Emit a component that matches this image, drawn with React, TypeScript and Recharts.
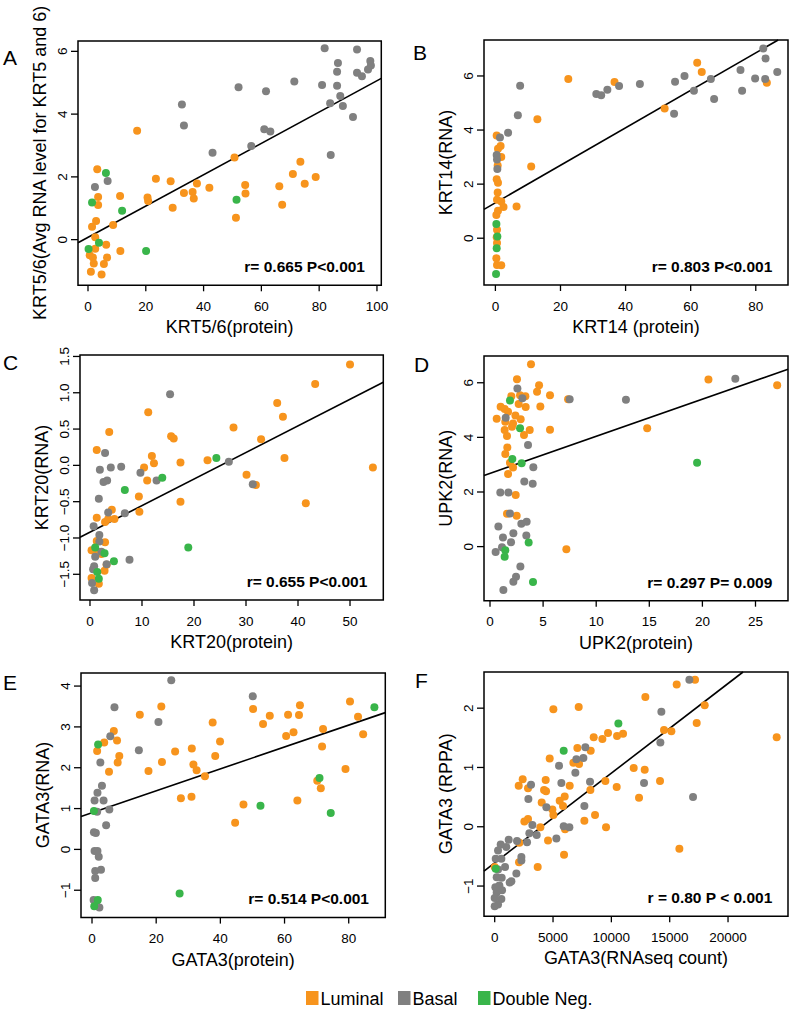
import React from 'react';
import {
  ScatterChart,
  Scatter,
  XAxis,
  YAxis,
  ReferenceArea,
  ReferenceLine,
} from 'recharts';

type Pt = [number, number];

const FONT = '"Liberation Sans", Arial, Helvetica, sans-serif';
const ORANGE = '#F7941D';
const GREY = '#808080';
const GREEN = '#39B54A';

// ---- A: KRT5/6 ----
const aLuminal: Pt[] = [
  [17, 3.47], [3.2, 2.24], [50.7, 2.62], [23.5, 1.94], [28.6, 1.86], [37.7, 1.79], [42, 1.65],
  [33.2, 1.49], [36.2, 1.52], [36.6, 1.31], [29.3, 1.02], [20.6, 1.34], [20.8, 1.23], [11.1, 1.39],
  [3.5, 1.36], [3.5, 1.1], [54.4, 1.74], [54.5, 1.47], [51.2, 0.7], [66.2, 1.7], [67.2, 1.11],
  [70.9, 2.09], [73.5, 2.48], [75, 1.78], [78.8, 2.0], [2.8, 0.59], [1.4, 0.41], [8.7, 0.47],
  [2.5, 0.08], [6.3, -0.16], [11.2, -0.36], [0.6, -0.5], [1.7, -0.57], [6.6, -0.57], [2, -0.76],
  [5.5, -0.78], [1, -1.02], [4.7, -1.11], [2.5, -0.29],
];
const aBasal: Pt[] = [
  [81.9, 6.1], [93.1, 6.06], [86.5, 5.63], [97.7, 5.69], [97.9, 5.55], [96.9, 5.42], [94.8, 5.21],
  [93.1, 5.32], [86.2, 5.35], [71.4, 5.04], [81, 4.93], [86.2, 4.9], [52.1, 4.86], [61.6, 4.73],
  [87.3, 4.58], [83.8, 4.35], [88.2, 4.26], [32.5, 4.31], [91.7, 3.91], [33.2, 3.64], [61, 3.52],
  [63.1, 3.45], [56.5, 2.98], [43.1, 2.77], [84, 2.7], [2.4, 1.68], [6.8, 1.87],
];
const aDoubleNeg: Pt[] = [
  [6.2, 2.12], [1.4, 1.18], [11.8, 0.92], [51.4, 1.27], [0.2, -0.3], [3.8, -0.1], [20.1, -0.36],
];

// ---- B: KRT14 ----
const bLuminal: Pt[] = [
  [62, 6.49], [63.4, 6.15], [83.4, 5.75], [36.6, 5.78], [22.4, 5.89], [52, 4.8], [12.9, 4.4],
  [11, 2.65], [6.5, 1.17], [0.4, 3.8], [0.8, 3.31], [1.6, 3.41], [1.8, 3.0], [0.7, 2.69],
  [0.4, 2.18], [0.8, 2.05], [0.7, 1.69], [0.5, 1.42], [1.8, 1.36], [2.5, 1.15], [0.8, 1.02],
  [0.3, 0.86], [0.5, 0.31], [0.4, 0.04], [0.5, -0.18], [0.3, -0.74], [0.5, -0.99], [1.8, -1.0],
];
const bBasal: Pt[] = [
  [82.3, 7.02], [83, 6.65], [86.6, 6.15], [75.3, 6.22], [79.8, 5.91], [82.9, 5.89], [66.2, 5.89],
  [58.1, 6.0], [55.2, 5.79], [61, 5.45], [75.8, 5.45], [67.2, 5.15], [44.4, 5.7], [38, 5.63],
  [34.4, 5.49], [31, 5.33], [32.5, 5.29], [54.9, 4.6], [7.6, 5.64], [6.9, 4.55], [3.9, 3.9],
  [1.4, 3.72], [0.4, 3.08], [0.5, 2.91], [0.6, 2.56],
];
const bDoubleNeg: Pt[] = [[0.3, 0.53], [0.6, 0.06], [0.4, -0.37], [0.2, -1.32]];

// ---- C: KRT20 ----
const cLuminal: Pt[] = [
  [50, 1.39], [43.3, 1.12], [36, 0.86], [37.1, 0.67], [11.2, 0.73], [27.6, 0.52], [32.9, 0.36],
  [15.6, 0.4], [16.1, 0.37], [3.7, 0.46], [1.3, 0.21], [11.9, 0.13], [12.3, 0.03], [10.4, -0.03],
  [17.4, 0.04], [22.6, 0.07], [37.4, 0.1], [54.4, -0.03], [30.1, -0.13], [31.9, -0.27], [11, -0.21],
  [9.4, -0.43], [17.4, -0.5], [41.5, -0.52], [9.5, -0.64], [4.2, -0.61], [1.3, -0.72], [2.9, -0.78],
  [3.5, -0.74], [4.7, -0.74], [2.9, -1.06], [1.3, -1.04], [0.3, -1.17], [1.5, -1.19], [2.2, -1.22],
  [2.8, -1.45], [3.2, -1.37], [0.3, -1.55], [1.7, -1.63],
];
const cBasal: Pt[] = [
  [15.4, 0.98], [2.9, 0.17], [1.9, -0.06], [4, -0.03], [6, -0.02], [9.7, -0.1], [12.8, -0.21],
  [2.6, -0.23], [3.3, -0.21], [26.7, 0.05], [31.3, -0.26], [1.7, -0.46], [3.5, -0.65], [6.7, -0.66],
  [0.7, -0.84], [1.8, -0.96], [1.8, -1.05], [1, -1.26], [0.8, -1.39], [0.6, -1.43], [3.2, -1.36],
  [7.6, -1.3], [0.4, -1.62], [0.8, -1.72], [2.2, -1.19],
];
const cDoubleNeg: Pt[] = [
  [6.7, -0.34], [24.3, 0.1], [13.9, -0.17], [18.9, -1.13], [1, -1.13], [2.8, -1.21], [4.6, -1.32],
  [1.4, -1.47], [1.7, -1.56],
];

// ---- D: UPK2 ----
const dLuminal: Pt[] = [
  [3.86, 6.68], [2.54, 6.13], [4.62, 5.91], [4.43, 5.67], [5.65, 5.54], [7.35, 5.4], [3.33, 5.51],
  [2.83, 5.54], [2.01, 5.51], [2.7, 5.22], [1.0, 5.12], [1.38, 5.04], [1.7, 4.94], [3.36, 5.11],
  [4.74, 5.13], [0.63, 4.68], [2.39, 4.8], [2.89, 4.66], [1.44, 4.57], [2.17, 4.51], [2.07, 4.39],
  [1.38, 4.27], [3.74, 4.27], [3.2, 4.09], [1.6, 4.05], [5.65, 4.28], [14.8, 4.33], [1.63, 3.63],
  [1.44, 3.39], [1.88, 3.07], [2.17, 2.9], [1.7, 2.66], [2.42, 1.89], [1.6, 1.2], [2.51, 1.13],
  [7.19, -0.1], [20.57, 6.12], [27.04, 5.91],
];
const dBasal: Pt[] = [
  [23.1, 6.15], [12.8, 5.38], [7.5, 5.4], [2.58, 5.79], [3.05, 5.43], [1.48, 4.72], [3.58, 3.72],
  [4.08, 2.91], [3.23, 2.38], [4.02, 2.3], [0.97, 1.98], [1.73, 1.98], [1.88, 1.21], [0.79, 0.74],
  [2.95, 0.84], [3.45, 0.91], [1.22, 0.33], [2.2, 0.49], [3.42, 0.41], [1.98, 0.16], [0.53, -0.2],
  [1.13, -0.02], [2.86, -0.73], [2.45, -1.1], [2.2, -1.29], [1.26, -1.59],
];
const dDoubleNeg: Pt[] = [
  [1.88, 5.35], [2.83, 4.33], [2.1, 3.21], [2.98, 3.05], [19.5, 3.07], [3.64, 0.15], [1.44, -0.13],
  [1.38, -0.37], [4.05, -1.3],
];

// ---- E: GATA3 protein vs RNA ----
const eLuminal: Pt[] = [
  [21.6, 3.5], [14.9, 3.3], [6.8, 2.9], [3.8, 2.62], [1.6, 2.41], [7.8, 2.67], [8.5, 2.29], [8, 2.13],
  [5.3, 1.9], [17.6, 1.92], [21.8, 2.14], [25.9, 2.4], [31.1, 2.47], [31.6, 2.08], [32.6, 1.94],
  [35.2, 1.79], [37.6, 3.11], [38.4, 2.29], [39.9, 2.64], [27.7, 1.25], [31, 1.29], [47.2, 1.1],
  [44.6, 0.65], [50.2, 3.44], [53.3, 3.07], [55.4, 3.27], [61.1, 3.3], [60.5, 2.78], [62.8, 2.87],
  [64.5, 3.29], [64.8, 3.53], [64, 1.2], [72, 2.95], [71.7, 2.52], [70.2, 1.68], [71.3, 1.5],
  [79, 1.97], [80.4, 3.62], [82.9, 3.25], [84.5, 2.82],
];
const eBasal: Pt[] = [
  [24.7, 4.14], [50.1, 3.75], [7, 3.48], [20.7, 3.12], [5.7, 2.77], [14.6, 2.43], [2.6, 2.13],
  [3.1, 1.56], [1.7, 1.39], [0.8, 1.2], [3.6, 1.2], [5.4, 0.98], [4.4, 0.59], [0.6, 0.42], [1.2, 0.4],
  [1.6, 0.92], [0.8, -0.04], [1.7, -0.04], [2.1, -0.18], [1, -0.53], [2.8, -0.5], [1, -0.7],
  [0.5, -1.24], [1.2, -1.32], [2.3, -1.42],
];
const eDoubleNeg: Pt[] = [
  [1.9, 2.57], [0.6, 0.94], [1.8, -1.24], [0.7, -1.39], [27.3, -1.08], [52.5, 1.07], [70.9, 1.75],
  [74.4, 0.89], [88, 3.48],
];

// ---- F: GATA3 RNAseq vs RPPA ----
const fLuminal: Pt[] = [
  [17171, 2.48], [15600, 2.4], [12914, 2.19], [18000, 2.05], [5029, 1.98], [7200, 2.02], [17314, 1.75],
  [14514, 1.63], [15143, 1.61], [9714, 1.58], [10486, 1.53], [11000, 1.57], [9229, 1.48], [8486, 1.51],
  [24171, 1.51], [7086, 1.33], [8229, 1.28], [6743, 1.08], [7229, 1.06], [4714, 1.15], [11914, 0.99],
  [12857, 0.96], [2400, 0.8], [2057, 0.69], [2857, 0.65], [4371, 0.79], [9486, 0.77], [10457, 0.67],
  [14171, 0.77], [6429, 0.69], [8200, 0.62], [4229, 0.62], [4400, 0.6], [6000, 0.51], [5571, 0.44],
  [4029, 0.41], [5857, 0.35], [12371, 0.49], [4943, 0.29], [5029, 0.2], [2543, 0.09], [2857, 0.13],
  [3914, -0.01], [7686, 0.1], [8600, 0.2], [9543, -0.01], [6029, -0.04], [4571, -0.23], [2114, -0.27],
  [2086, -0.6], [3686, -0.68], [5943, -0.47], [15829, -0.37], [0, -0.68],
];
const fBasal: Pt[] = [
  [16686, 2.48], [14286, 1.94], [14200, 1.42], [7771, 1.34], [7600, 1.16], [7000, 1.14], [5514, 1.03],
  [6914, 0.91], [5714, 0.74], [8171, 0.76], [12800, 0.74], [17000, 0.5], [3114, 0.71], [2886, 0.47],
  [4429, 0.33], [7686, 0.35], [3229, 0.03], [5914, 0.01], [6400, -0.01], [2971, -0.11], [3600, -0.14],
  [5286, -0.2], [2771, -0.26], [1914, -0.24], [1200, -0.22], [2286, -0.51], [2286, -0.57],
  [1857, -0.79], [1429, -0.92], [1286, -0.94], [286, -0.4], [514, -0.3], [1000, -0.34], [86, -0.54],
  [571, -0.54], [886, -0.68], [286, -0.72], [171, -0.85], [600, -0.86], [400, -0.99], [57, -1.02],
  [629, -1.07], [171, -1.11], [0, -1.2], [571, -1.22], [286, -1.31], [0, -1.34],
];
const fDoubleNeg: Pt[] = [[10600, 1.74], [5914, 1.28], [86, -0.71]];

// fitted lines: [intercept, slope]
const aFit: Pt = [0.073, 0.0499];
const bFit: Pt = [1.31, 0.0693];
const cFit: Pt = [-0.92, 0.0366];
const dFit: Pt = [2.68, 0.136];
const eFit: Pt = [0.9, 0.0268];
const fFit: Pt = [-0.608, 0.0001512];

const aXTicks = [0, 20, 40, 60, 80, 100];
const aYTicks = [0, 2, 4, 6];
const bXTicks = [0, 20, 40, 60, 80];
const bYTicks = [0, 2, 4, 6];
const cXTicks = [0, 10, 20, 30, 40, 50];
const cYTicks = [-1.5, -1, -0.5, 0, 0.5, 1, 1.5];
const dXTicks = [0, 5, 10, 15, 20, 25];
const dYTicks = [0, 2, 4, 6];
const eXTicks = [0, 20, 40, 60, 80];
const eYTicks = [-1, 0, 1, 2, 3, 4];
const fXTicks = [0, 5000, 10000, 15000, 20000];
const fYTicks = [-1, 0, 1, 2];

const panels = [
  {
    letter: 'A', letterPos: [3, 65], box: { l: 77.7, r: 381, t: 40.7, b: 285 },
    xDomain: [-3.46, 101.5], yDomain: [-1.455, 6.33], xTicks: aXTicks, yTicks: aYTicks, yDec: 0,
    lum: aLuminal, bas: aBasal, dn: aDoubleNeg, fit: aFit,
    xTitle: 'KRT5/6(protein)', yTitle: 'KRT5/6(Avg RNA level for KRT5 and 6)', stat: 'r= 0.665 P<0.001',
  },
  {
    letter: 'B', letterPos: [413, 60], box: { l: 484.3, r: 788.3, t: 40, b: 285 },
    xDomain: [-3.5, 89.9], yDomain: [-1.73, 7.33], xTicks: bXTicks, yTicks: bYTicks, yDec: 0,
    lum: bLuminal, bas: bBasal, dn: bDoubleNeg, fit: bFit,
    xTitle: 'KRT14 (protein)', yTitle: 'KRT14(RNA)', stat: 'r= 0.803 P<0.001',
  },
  {
    letter: 'C', letterPos: [3, 370], box: { l: 80, r: 383.3, t: 355, b: 600 },
    xDomain: [-1.92, 56.4], yDomain: [-1.854, 1.52], xTicks: cXTicks, yTicks: cYTicks, yDec: 1,
    lum: cLuminal, bas: cBasal, dn: cDoubleNeg, fit: cFit,
    xTitle: 'KRT20(protein)', yTitle: 'KRT20(RNA)', stat: 'r= 0.655 P<0.001',
  },
  {
    letter: 'D', letterPos: [414, 372], box: { l: 484.3, r: 788.3, t: 356, b: 600.7 },
    xDomain: [-0.565, 28.06], yDomain: [-1.98, 6.98], xTicks: dXTicks, yTicks: dYTicks, yDec: 0,
    lum: dLuminal, bas: dBasal, dn: dDoubleNeg, fit: dFit,
    xTitle: 'UPK2(protein)', yTitle: 'UPK2(RNA)', stat: 'r= 0.297 P= 0.009',
  },
  {
    letter: 'E', letterPos: [3, 690], box: { l: 80.7, r: 385, t: 672.7, b: 917.3 },
    xDomain: [-3.43, 91.4], yDomain: [-1.67, 4.32], xTicks: eXTicks, yTicks: eYTicks, yDec: 0,
    lum: eLuminal, bas: eBasal, dn: eDoubleNeg, fit: eFit,
    xTitle: 'GATA3(protein)', yTitle: 'GATA3(RNA)', stat: 'r= 0.514 P<0.001',
  },
  {
    letter: 'F', letterPos: [415, 688], box: { l: 484.3, r: 788.3, t: 671.7, b: 916 },
    xDomain: [-917, 25140], yDomain: [-1.51, 2.61], xTicks: fXTicks, yTicks: fYTicks, yDec: 0,
    lum: fLuminal, bas: fBasal, dn: fDoubleNeg, fit: fFit,
    xTitle: 'GATA3(RNAseq count)', yTitle: 'GATA3 (RPPA)', stat: 'r = 0.80 P < 0.001',
  },
];

const legendItems = [
  { name: 'Luminal', color: ORANGE, x: 306 },
  { name: 'Basal', color: GREY, x: 398 },
  { name: 'Double Neg.', color: GREEN, x: 478 },
];

const toXY = (pts: Pt[]) => pts.map(([x, y]) => ({ x, y }));

// keep the fit line inside the plot box
function clipFit([a, b]: Pt, [x0, x1]: number[], [y0, y1]: number[]) {
  let xa = x0;
  let xb = x1;
  if (a + b * xa < y0) xa = (y0 - a) / b;
  if (a + b * xb > y1) xb = (y1 - a) / b;
  return [{ x: xa, y: a + b * xa }, { x: xb, y: a + b * xb }];
}

const fmtNum = (v: number, dec: number) => v.toFixed(dec).replace('-', '\u2212');

function YTick(props: any) {
  const { x, y, payload, dec } = props;
  return (
    <text x={x} y={y} transform={`rotate(-90 ${x} ${y})`} textAnchor="middle" fontSize={13.5} fill="#000">
      {fmtNum(payload.value, dec)}
    </text>
  );
}

const dot = (color: string) => (p: any) => <circle cx={p.cx} cy={p.cy} r={4} fill={color} />;

function Panel({ p }: { p: (typeof panels)[number] }) {
  const { l, r, t, b } = p.box;
  const w = r - l + 90;
  const h = b - t + 100;
  const seg = clipFit(p.fit, p.xDomain, p.yDomain);
  return (
    <div style={{ position: 'absolute', left: l - 80, top: t - 45 }}>
      <ScatterChart width={w} height={h} margin={{ top: 45, right: 10, left: 0, bottom: 0 }}>
        <XAxis
          type="number"
          dataKey="x"
          domain={p.xDomain}
          ticks={p.xTicks}
          interval={0}
          allowDataOverflow
          axisLine={false}
          tickLine={{ stroke: '#000', strokeWidth: 1.3 }}
          tickSize={6}
          tickMargin={10}
          tick={{ fontSize: 13.5, fill: '#000' }}
          height={55}
          label={{ value: p.xTitle, position: 'insideBottom', offset: 7, fontSize: 18, fill: '#000' }}
        />
        <YAxis
          type="number"
          dataKey="y"
          domain={p.yDomain}
          ticks={p.yTicks}
          interval={0}
          allowDataOverflow
          axisLine={false}
          tickLine={{ stroke: '#000', strokeWidth: 1.3 }}
          tickSize={7}
          tickMargin={4}
          tick={(tp: any) => <YTick {...tp} dec={p.yDec} />}
          width={80}
        />
        <ReferenceArea
          x1={p.xDomain[0]}
          x2={p.xDomain[1]}
          y1={p.yDomain[0]}
          y2={p.yDomain[1]}
          fill="none"
          stroke="#000"
          strokeWidth={1.5}
          fillOpacity={0}
          ifOverflow="visible"
        />
        <Scatter data={toXY(p.lum)} fill={ORANGE} shape={dot(ORANGE)} isAnimationActive={false} />
        <Scatter data={toXY(p.bas)} fill={GREY} shape={dot(GREY)} isAnimationActive={false} />
        <Scatter data={toXY(p.dn)} fill={GREEN} shape={dot(GREEN)} isAnimationActive={false} />
        <ReferenceLine segment={seg} stroke="#000" strokeWidth={1.6} ifOverflow="visible" />
      </ScatterChart>
    </div>
  );
}

export default function App() {
  return (
    <div
      style={{
        position: 'absolute',
        left: 0,
        top: 0,
        width: 791,
        height: 1019,
        background: '#fff',
        fontFamily: FONT,
      }}
    >
      {panels.map((p) => (
        <Panel key={p.letter} p={p} />
      ))}
      <svg
        width={791}
        height={1019}
        style={{ position: 'absolute', left: 0, top: 0, pointerEvents: 'none', fontFamily: FONT }}
      >
        {panels.map((p) => (
          <g key={p.letter}>
            <text x={p.letterPos[0]} y={p.letterPos[1]} fontSize={21} fill="#000">
              {p.letter}
            </text>
            <text
              transform={`translate(${p.box.l - 32} ${(p.box.t + p.box.b) / 2}) rotate(-90)`}
              textAnchor="middle"
              fontSize={18}
              fill="#000"
            >
              {p.yTitle}
            </text>
            <text
              x={p.box.r - 16}
              y={p.box.b - 13}
              textAnchor="end"
              fontSize={15.5}
              fontWeight="bold"
              fill="#000"
            >
              {p.stat}
            </text>
          </g>
        ))}
        {legendItems.map((it) => (
          <g key={it.name}>
            <rect x={it.x} y={991} width={12.5} height={14} fill={it.color} />
            <text x={it.x + 14.5} y={1005} fontSize={18} fill="#000">
              {it.name}
            </text>
          </g>
        ))}
      </svg>
    </div>
  );
}
